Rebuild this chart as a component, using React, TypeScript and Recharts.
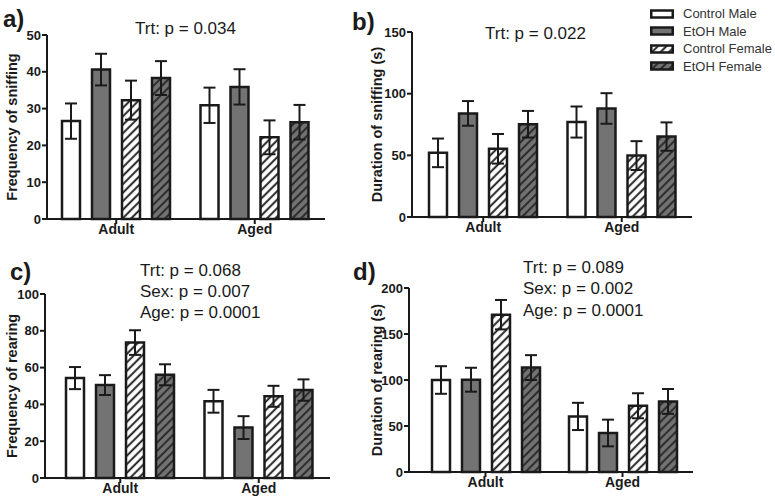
import { Bar, BarChart, ErrorBar, Legend, XAxis, YAxis } from "recharts";

const FONT = '"Liberation Sans", Arial, sans-serif';
const INK = "#1a1a1a";

const GROUPS = ["Adult", "Aged"];
const SERIES = ["Control Male", "EtOH Male", "Control Female", "EtOH Female"];
const KEYS = ["cm", "em", "cf", "ef"];

// rows = age group, columns = series (mean ± SEM)
const sniffFreqMean = [[26.6, 40.6, 32.3, 38.3], [30.9, 35.9, 22.2, 26.3]];
const sniffFreqSem = [[4.8, 4.3, 5.3, 4.6], [4.8, 4.8, 4.6, 4.7]];
const sniffDurMean = [[52, 84, 55.3, 75.2], [77, 88, 49.8, 65.2]];
const sniffDurSem = [[11.6, 10, 12, 10.8], [12.6, 12.4, 11.7, 11.5]];
const rearFreqMean = [[54.3, 50.5, 73.6, 56.1], [41.7, 27.4, 44.4, 47.8]];
const rearFreqSem = [[6, 5.4, 6.7, 5.7], [6.2, 6.2, 5.7, 5.8]];
const rearDurMean = [[100, 100.3, 171, 113.5], [60.4, 42.4, 72, 76.7]];
const rearDurSem = [[15, 13, 16, 13.5], [14.8, 14.5, 13.6, 13.5]];

const sniffFreqTicks = [0, 10, 20, 30, 40, 50];
const sniffDurTicks = [0, 50, 100, 150];
const rearFreqTicks = [0, 20, 40, 60, 80, 100];
const rearDurTicks = [0, 50, 100, 150, 200];

function buildRows(mean: number[][], sem: number[][]) {
  return GROUPS.map((group, g) => {
    const row: Record<string, string | number> = { group };
    KEYS.forEach((k, i) => {
      row[k] = mean[g][i];
      row[k + "Err"] = sem[g][i];
    });
    return row;
  });
}

function Hatches({ id }: { id: string }) {
  return (
    <defs>
      <pattern id={`${id}-hw`} patternUnits="userSpaceOnUse" width={6} height={6} patternTransform="rotate(45)">
        <rect width={6} height={6} fill="#fff" />
        <line x1={1.2} y1={0} x2={1.2} y2={6} stroke={INK} strokeWidth={1.9} />
      </pattern>
      <pattern id={`${id}-hg`} patternUnits="userSpaceOnUse" width={6} height={6} patternTransform="rotate(45)">
        <rect width={6} height={6} fill="#737373" />
        <line x1={1.2} y1={0} x2={1.2} y2={6} stroke="#262626" strokeWidth={1.9} />
      </pattern>
    </defs>
  );
}

const fillsFor = (id: string) => ["#fff", "#737373", `url(#${id}-hw)`, `url(#${id}-hg)`];

function LegendBox() {
  const fills = fillsFor("lg");
  return (
    <div style={{ fontFamily: FONT, fontSize: 13, color: "#333", lineHeight: "17.5px" }}>
      {SERIES.map((s, i) => (
        <div key={s} style={{ display: "flex", alignItems: "center", height: 17.5 }}>
          <svg width={24} height={10} style={{ marginRight: 9 }}>
            <Hatches id="lg" />
            <rect x={1.25} y={1.5} width={21.5} height={7} fill={fills[i]} stroke={INK} strokeWidth={2.5} />
          </svg>
          <span>{s}</span>
        </div>
      ))}
    </div>
  );
}

type PanelProps = {
  id: string;
  left: number;
  top: number;
  width: number;
  height: number;
  margin: { top: number; right: number; bottom: number; left: number };
  yWidth: number;
  xHeight: number;
  labelOffset: number;
  pad: { left: number; right: number };
  mean: number[][];
  sem: number[][];
  ticks: number[];
  yLabel: string;
  letter: string;
  letterPos: [number, number];
  notes: string[];
  notePos: [number, number];
  noteStep: number;
  legend?: boolean;
};

function Panel(p: PanelProps) {
  const data = buildRows(p.mean, p.sem);
  const fills = fillsFor(p.id);
  const max = p.ticks[p.ticks.length - 1];
  return (
    <div style={{ position: "absolute", left: p.left, top: p.top }}>
      <BarChart width={p.width} height={p.height} data={data} margin={p.margin} barSize={18} barGap={12}>
        <Hatches id={p.id} />
        <XAxis
          dataKey="group"
          height={p.xHeight}
          padding={p.pad}
          tickSize={5}
          tickMargin={0}
          axisLine={{ stroke: INK, strokeWidth: 2 }}
          tickLine={{ stroke: INK, strokeWidth: 2 }}
          tick={{ fontSize: 14, fontWeight: 700, fill: INK, fontFamily: FONT }}
        />
        <YAxis
          width={p.yWidth}
          domain={[0, max]}
          ticks={p.ticks}
          interval={0}
          tickSize={5}
          tickMargin={1}
          axisLine={{ stroke: INK, strokeWidth: 2 }}
          tickLine={{ stroke: INK, strokeWidth: 2 }}
          tick={{ fontSize: 13, fontWeight: 700, fill: INK, fontFamily: FONT }}
          label={{
            value: p.yLabel,
            angle: -90,
            position: "insideLeft",
            offset: p.labelOffset,
            style: { textAnchor: "middle", fontSize: 14.5, fontWeight: 700, fill: INK, fontFamily: FONT },
          }}
        />
        {KEYS.map((k, i) => (
          <Bar key={k} dataKey={k} name={SERIES[i]} fill={fills[i]} stroke={INK} strokeWidth={2.5} isAnimationActive={false}>
            <ErrorBar dataKey={k + "Err"} width={6} strokeWidth={2} stroke={INK} isAnimationActive={false} />
          </Bar>
        ))}
        <text x={p.letterPos[0]} y={p.letterPos[1]} fontSize={24} fontWeight={700} fill={INK} fontFamily={FONT}>
          {p.letter}
        </text>
        {p.notes.map((n, i) => (
          <text key={n} x={p.notePos[0]} y={p.notePos[1] + i * p.noteStep} fontSize={17} fill={INK} fontFamily={FONT}>
            {n}
          </text>
        ))}
        {p.legend && (
          <Legend
            layout="vertical"
            align="center"
            verticalAlign="middle"
            content={() => <LegendBox />}
            wrapperStyle={{ left: 320, top: 5, width: 125, height: 72 }}
          />
        )}
      </BarChart>
    </div>
  );
}

export default function App() {
  return (
    <div style={{ position: "absolute", left: 0, top: 0, width: 775, height: 504, background: "#fff", fontFamily: FONT }}>
      <Panel
        id="a"
        left={0}
        top={0}
        width={340}
        height={250}
        margin={{ top: 35, right: 15, bottom: 0, left: 0 }}
        yWidth={47}
        xHeight={31}
        labelOffset={12}
        pad={{ left: 0, right: 1 }}
        mean={sniffFreqMean}
        sem={sniffFreqSem}
        ticks={sniffFreqTicks}
        yLabel="Frequency of sniffing"
        letter="a)"
        letterPos={[3, 27]}
        notes={["Trt: p = 0.034"]}
        notePos={[135, 34]}
        noteStep={21}
      />
      <Panel
        id="b"
        left={330}
        top={0}
        width={445}
        height={250}
        margin={{ top: 32, right: 83, bottom: 0, left: 42 }}
        yWidth={40}
        xHeight={33}
        labelOffset={5}
        pad={{ left: 2, right: 1 }}
        mean={sniffDurMean}
        sem={sniffDurSem}
        ticks={sniffDurTicks}
        yLabel="Duration of sniffing (s)"
        letter="b)"
        letterPos={[22, 30]}
        notes={["Trt: p = 0.022"]}
        notePos={[155, 39]}
        noteStep={21}
        legend
      />
      <Panel
        id="c"
        left={0}
        top={250}
        width={340}
        height={254}
        margin={{ top: 44, right: 10, bottom: 0, left: 0 }}
        yWidth={45}
        xHeight={26}
        labelOffset={12}
        pad={{ left: 6, right: 2 }}
        mean={rearFreqMean}
        sem={rearFreqSem}
        ticks={rearFreqTicks}
        yLabel="Frequency of rearing"
        letter="c)"
        letterPos={[10, 30]}
        notes={["Trt: p = 0.068", "Sex: p = 0.007", "Age: p = 0.0001"]}
        notePos={[140, 26]}
        noteStep={21}
      />
      <Panel
        id="d"
        left={330}
        top={250}
        width={445}
        height={254}
        margin={{ top: 38, right: 82, bottom: 0, left: 39 }}
        yWidth={40}
        xHeight={32}
        labelOffset={8}
        pad={{ left: 8, right: 2 }}
        mean={rearDurMean}
        sem={rearDurSem}
        ticks={rearDurTicks}
        yLabel="Duration of rearing (s)"
        letter="d)"
        letterPos={[23, 30]}
        notes={["Trt: p = 0.089", "Sex: p = 0.002", "Age: p = 0.0001"]}
        notePos={[193, 22.5]}
        noteStep={21.7}
      />
    </div>
  );
}
